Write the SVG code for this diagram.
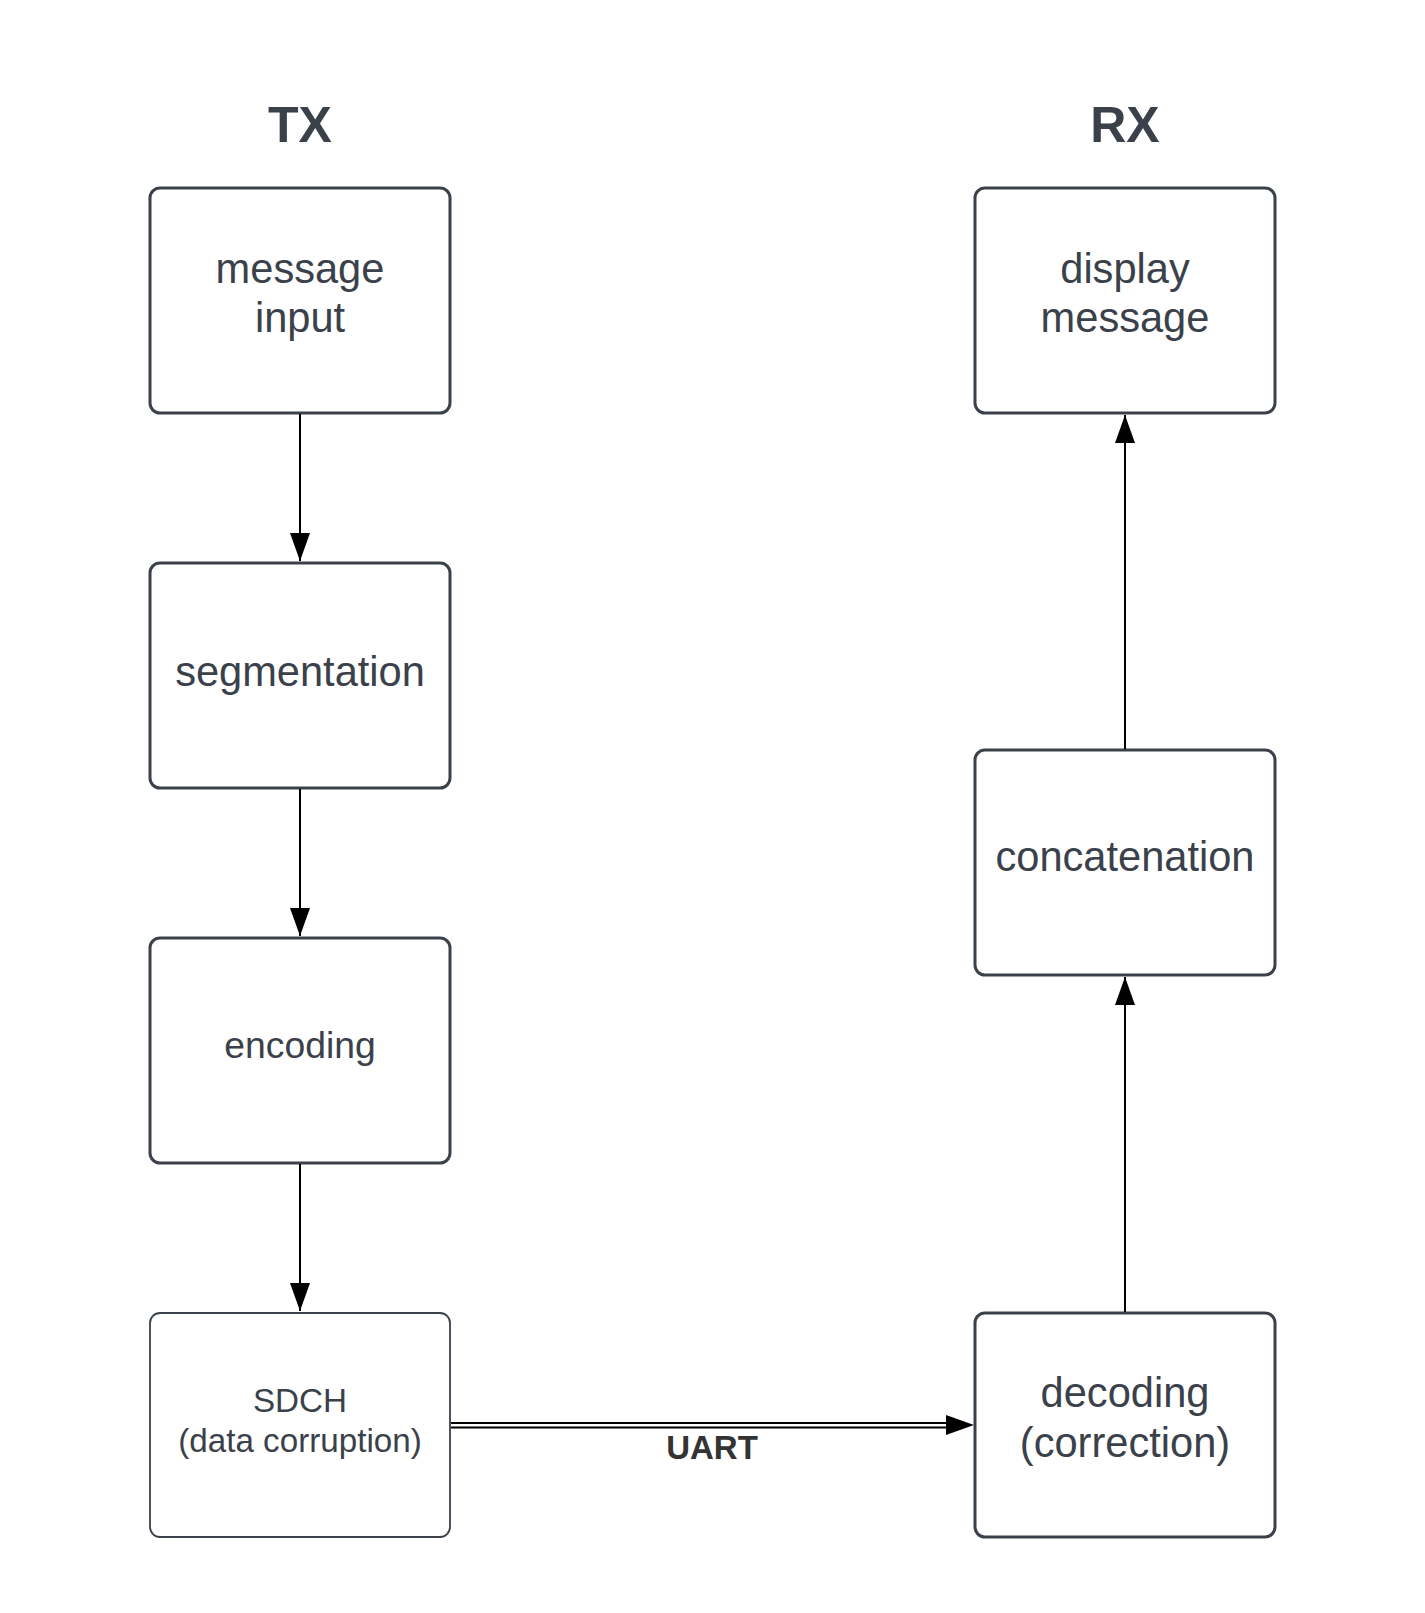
<svg xmlns="http://www.w3.org/2000/svg" width="1425" height="1613" viewBox="0 0 1425 1613">
<defs>
<style>
.box{fill:#ffffff;stroke:#3a414a;stroke-width:3}
.thin{stroke-width:1.8}
.lbl{font-family:"Liberation Sans",Arial,sans-serif;fill:#3a414a;text-anchor:middle}
.hdr{font-family:"Liberation Sans",Arial,sans-serif;fill:#3a414a;text-anchor:middle;font-weight:bold;font-size:50px}
.con{stroke:#000;stroke-width:2;fill:none}
</style>
<marker id="ah" viewBox="0 0 28 20" refX="28" refY="10" markerWidth="28" markerHeight="20" markerUnits="userSpaceOnUse" orient="auto">
<path d="M0,0 L28,10 L0,20 Z" fill="#000"/>
</marker>
</defs>
<rect width="1425" height="1613" fill="#ffffff"/>
<text class="hdr" x="300" y="142">TX</text>
<text class="hdr" x="1125" y="142">RX</text>
<g id="message-input">
<rect class="box" x="150" y="188" width="300" height="225" rx="10"/>
<text class="lbl" font-size="41.6" x="300" y="283">message</text>
<text class="lbl" font-size="41.6" x="300" y="332">input</text>
</g>
<g id="segmentation">
<rect class="box" x="150" y="563" width="300" height="225" rx="10"/>
<text class="lbl" font-size="41.6" x="300" y="686">segmentation</text>
</g>
<g id="encoding">
<rect class="box" x="150" y="938" width="300" height="225" rx="10"/>
<text class="lbl" font-size="37.3" x="300" y="1058">encoding</text>
</g>
<g id="sdch">
<rect class="box thin" x="150" y="1313" width="300" height="224" rx="10"/>
<text class="lbl" font-size="33.2" x="300" y="1412">SDCH</text>
<text class="lbl" font-size="33.2" x="300" y="1452">(data corruption)</text>
</g>
<g id="display-message">
<rect class="box" x="975" y="188" width="300" height="225" rx="10"/>
<text class="lbl" font-size="41.6" x="1125" y="283">display</text>
<text class="lbl" font-size="41.6" x="1125" y="332">message</text>
</g>
<g id="concatenation">
<rect class="box" x="975" y="750" width="300" height="225" rx="10"/>
<text class="lbl" font-size="41.6" x="1125" y="871">concatenation</text>
</g>
<g id="decoding">
<rect class="box" x="975" y="1313" width="300" height="224" rx="10"/>
<text class="lbl" font-size="41.6" x="1125" y="1407">decoding</text>
<text class="lbl" font-size="41.6" x="1125" y="1457">(correction)</text>
</g>
<g id="connectors">
<line class="con" x1="300" y1="414" x2="300" y2="561" marker-end="url(#ah)"/>
<line class="con" x1="300" y1="789" x2="300" y2="936" marker-end="url(#ah)"/>
<line class="con" x1="300" y1="1164" x2="300" y2="1311" marker-end="url(#ah)"/>
<line class="con" x1="1125" y1="749" x2="1125" y2="415" marker-end="url(#ah)"/>
<line class="con" x1="1125" y1="1312" x2="1125" y2="977" marker-end="url(#ah)"/>
<line stroke="#000" stroke-width="1.8" x1="451" y1="1423" x2="950" y2="1423"/>
<line stroke="#000" stroke-width="1.8" x1="451" y1="1427.5" x2="950" y2="1427.5"/>
<path d="M946,1415 L974,1425 L946,1435 Z" fill="#000"/>
<text x="712" y="1459" font-family="Liberation Sans,Arial,sans-serif" font-weight="bold" font-size="33" fill="#333333" text-anchor="middle">UART</text>
</g>
</svg>
